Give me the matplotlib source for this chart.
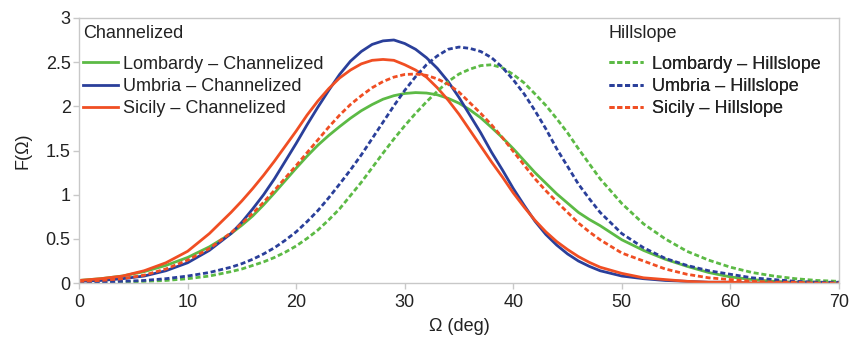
import matplotlib

matplotlib.use("Agg")
import matplotlib.pyplot as plt

plt.rcParams["font.family"] = ["Liberation Sans", "DejaVu Sans"]

# slope angle (deg): coarse on the tails, 1-degree steps across the peaks
omega = list(range(0, 15, 2)) + list(range(15, 48)) + list(range(48, 71, 2))

lombardy_ch = [0.03, 0.05, 0.08, 0.13, 0.20, 0.29, 0.41, 0.56,
               0.655, 0.76, 0.885, 1.02, 1.16, 1.30, 1.435, 1.56, 1.67, 1.77, 1.865,
               1.95, 2.02, 2.08, 2.12, 2.145, 2.155, 2.15, 2.13, 2.09, 2.035, 1.96,
               1.87, 1.76, 1.645, 1.52, 1.385, 1.25, 1.13, 1.01, 0.905, 0.80, 0.72,
               0.65, 0.49, 0.37, 0.27, 0.19, 0.12, 0.07, 0.04, 0.02, 0.01, 0.01, 0.0]
umbria_ch = [0.02, 0.03, 0.05, 0.08, 0.14, 0.23, 0.37, 0.56,
             0.69, 0.84, 1.00, 1.18, 1.38, 1.58, 1.79, 1.99, 2.18, 2.36, 2.51,
             2.62, 2.70, 2.74, 2.75, 2.71, 2.645, 2.55, 2.43, 2.28, 2.10, 1.90,
             1.70, 1.48, 1.28, 1.07, 0.88, 0.70, 0.55, 0.43, 0.33, 0.25, 0.19,
             0.14, 0.08, 0.05, 0.03, 0.02, 0.01, 0.01, 0.0, 0.0, 0.0, 0.0, 0.0]
sicily_ch = [0.03, 0.05, 0.08, 0.14, 0.23, 0.36, 0.56, 0.80,
             0.93, 1.07, 1.22, 1.38, 1.55, 1.72, 1.90, 2.06, 2.20, 2.32, 2.41,
             2.48, 2.52, 2.53, 2.52, 2.47, 2.41, 2.33, 2.21, 2.07, 1.91, 1.73,
             1.55, 1.37, 1.20, 1.02, 0.86, 0.71, 0.58, 0.47, 0.38, 0.30, 0.235,
             0.18, 0.11, 0.06, 0.04, 0.02, 0.01, 0.01, 0.0, 0.0, 0.0, 0.0, 0.0]
lombardy_hs = [0.0, 0.0, 0.01, 0.02, 0.03, 0.05, 0.08, 0.13,
               0.16, 0.20, 0.24, 0.29, 0.35, 0.42, 0.505, 0.60, 0.715, 0.84, 0.99,
               1.14, 1.305, 1.47, 1.63, 1.78, 1.92, 2.05, 2.17, 2.28, 2.365, 2.42,
               2.46, 2.47, 2.435, 2.36, 2.265, 2.14, 2.01, 1.86, 1.70, 1.52, 1.35,
               1.18, 0.90, 0.67, 0.50, 0.36, 0.26, 0.18, 0.12, 0.08, 0.05, 0.03, 0.02]
umbria_hs = [0.0, 0.01, 0.02, 0.03, 0.05, 0.08, 0.12, 0.18,
             0.22, 0.27, 0.33, 0.40, 0.485, 0.58, 0.695, 0.82, 0.965, 1.12, 1.28,
             1.45, 1.635, 1.82, 2.005, 2.18, 2.335, 2.47, 2.57, 2.645, 2.67, 2.655,
             2.62, 2.55, 2.44, 2.30, 2.14, 1.95, 1.745, 1.52, 1.32, 1.12, 0.955,
             0.80, 0.56, 0.40, 0.28, 0.20, 0.14, 0.10, 0.06, 0.04, 0.02, 0.01, 0.01]
sicily_hs = [0.02, 0.03, 0.05, 0.09, 0.16, 0.26, 0.39, 0.57,
             0.675, 0.79, 0.915, 1.05, 1.19, 1.33, 1.475, 1.62, 1.765, 1.90, 2.02,
             2.12, 2.21, 2.28, 2.33, 2.36, 2.365, 2.35, 2.31, 2.25, 2.16, 2.04,
             1.92, 1.79, 1.645, 1.49, 1.335, 1.18, 1.045, 0.92, 0.80, 0.68, 0.58,
             0.49, 0.34, 0.25, 0.16, 0.10, 0.06, 0.04, 0.02, 0.01, 0.01, 0.0, 0.0]

x_ticks = [0, 10, 20, 30, 40, 50, 60, 70]
y_ticks = [0, 0.5, 1, 1.5, 2, 2.5, 3]

GREEN = "#5cba45"
BLUE = "#2a3f9a"
RED = "#f04e23"
GRID = "#c8c8c8"
INK = "#222222"

fig = plt.figure(figsize=(8.5, 3.44), dpi=100)
ax = fig.add_axes([0.093, 0.177, 0.894, 0.771])

lw = 2.0
dash = (0, (1.8, 1.0))
ch_lines = [
    ax.plot(omega, lombardy_ch, color=GREEN, lw=lw, label="Lombardy \u2013 Channelized")[0],
    ax.plot(omega, umbria_ch, color=BLUE, lw=lw, label="Umbria \u2013 Channelized")[0],
    ax.plot(omega, sicily_ch, color=RED, lw=lw, label="Sicily \u2013 Channelized")[0],
]
hs_lines = [
    ax.plot(omega, lombardy_hs, color=GREEN, lw=lw, ls=dash, label="Lombardy \u2013 Hillslope")[0],
    ax.plot(omega, umbria_hs, color=BLUE, lw=lw, ls=dash, label="Umbria \u2013 Hillslope")[0],
    ax.plot(omega, sicily_hs, color=RED, lw=lw, ls=dash, label="Sicily \u2013 Hillslope")[0],
]
for line in ch_lines:
    line.set_solid_joinstyle("round")

ax.set_xlim(0, 70)
ax.set_ylim(0, 3)
ax.set_xticks(x_ticks)
ax.set_yticks(y_ticks)
ax.set_yticklabels([f"{v:g}" for v in y_ticks])
for side in ["top", "right", "left", "bottom"]:
    ax.spines[side].set_color(GRID)
    ax.spines[side].set_linewidth(1.0)
ax.tick_params(axis="both", colors=GRID, labelcolor=INK, labelsize=13, length=4, width=1.0)
ax.tick_params(axis="y", pad=2)
ax.tick_params(axis="x", pad=4)

ax.set_xlabel("\u03a9 (deg)", fontsize=13, color=INK, labelpad=5)
ax.set_ylabel("F(\u03a9)", fontsize=13, color=INK, labelpad=10)

# two legends, each with its group heading set a little above the entries
legend_style = dict(frameon=False, fontsize=13, handlelength=1.9, labelcolor=INK,
                    labelspacing=0.3, borderpad=0.0, borderaxespad=0.0)
groups = [("Channelized", ch_lines, 0.0055, 0.3), ("Hillslope", hs_lines, 0.697, 0.5)]
for title, handles, x_left, text_pad in groups:
    leg = ax.legend(handles=handles, loc="upper left", bbox_to_anchor=(x_left, 0.858),
                    handletextpad=text_pad, **legend_style)
    ax.add_artist(leg)
    ax.text(x_left, 0.94, title, transform=ax.transAxes, ha="left", va="center",
            fontsize=13, color=INK)

fig.savefig("out.png", dpi=100)
